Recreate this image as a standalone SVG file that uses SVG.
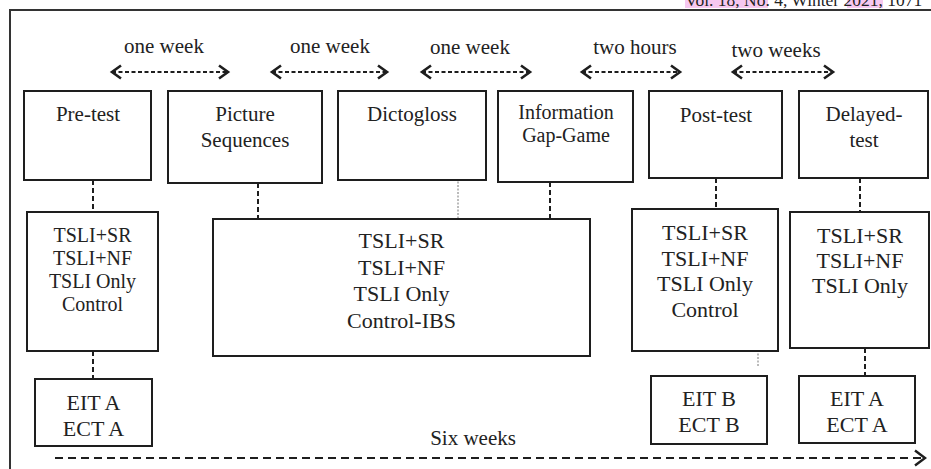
<svg xmlns="http://www.w3.org/2000/svg" width="931" height="469" viewBox="0 0 931 469" font-family="Liberation Serif, DejaVu Serif, serif">
<style>
  .box { fill: #fff; stroke: #1e1e1e; stroke-width: 2; }
  .t { fill: #222; text-anchor: middle; }
  .lbl { font-size: 21px; }
  .bt { font-size: 21px; }
  .bt2 { font-size: 22px; }
  .dash { stroke: #1e1e1e; stroke-width: 2; stroke-dasharray: 5 3; fill: none; }
  .dot { stroke: #777; stroke-width: 1; stroke-dasharray: 2 1.5; fill: none; }
  .arr { stroke: #1e1e1e; stroke-width: 2; stroke-dasharray: 4 2.5; fill: none; marker-start: url(#chev); marker-end: url(#chev); }
  .hdr { font-size: 17.5px; fill: #222; }
</style>
<defs>
  <marker id="chev" markerUnits="userSpaceOnUse" markerWidth="14" markerHeight="16" refX="10" refY="7" orient="auto-start-reverse" overflow="visible">
    <path d="M1,0.5 L10,7 L1,13.5" fill="none" stroke="#1e1e1e" stroke-width="2.6" stroke-dasharray="none"/>
  </marker>
  <marker id="chevB" markerUnits="userSpaceOnUse" markerWidth="14" markerHeight="18" refX="11" refY="8" orient="auto" overflow="visible">
    <path d="M1,0.5 L11,8 L1,15.5" fill="none" stroke="#1e1e1e" stroke-width="2.4" stroke-dasharray="none"/>
  </marker>
</defs>

<rect width="931" height="469" fill="#fff"/>

<!-- header -->
<g id="header">
  <rect x="685" y="0" width="83" height="8" fill="#f6c8f0"/>
  <rect x="847" y="0" width="36" height="8" fill="#f6c8f0"/>
  <text class="hdr" x="685" y="6" font-family="Liberation Serif">Vol. 18, No. 4, Winter 2021, 1071</text>
</g>

<!-- frame -->
<path d="M10,469 V10 H931" fill="none" stroke="#333" stroke-width="2"/>

<!-- time labels -->
<g id="labels" font-family="Liberation Serif">
  <text class="t lbl" x="164" y="53">one week</text>
  <text class="t lbl" x="330" y="53">one week</text>
  <text class="t lbl" x="470" y="54">one week</text>
  <text class="t lbl" x="635" y="54">two hours</text>
  <text class="t lbl" x="776" y="57">two weeks</text>
  <text class="t lbl" x="473" y="445">Six weeks</text>
</g>

<!-- connectors -->
<g id="connectors">
  <line class="arr" x1="112" y1="72" x2="228" y2="72"/>
  <line class="arr" x1="272" y1="72" x2="387" y2="72"/>
  <line class="arr" x1="422" y1="72" x2="530" y2="72"/>
  <line class="arr" x1="582" y1="72" x2="680" y2="72"/>
  <line class="arr" x1="733" y1="72" x2="833" y2="72"/>

  <line class="dash" x1="93" y1="180" x2="93" y2="212"/>
  <line class="dash" x1="258" y1="183" x2="258" y2="223"/>
  <line class="dot" x1="458" y1="178" x2="458" y2="219"/>
  <line class="dash" x1="550" y1="182" x2="550" y2="223"/>
  <line class="dash" x1="716" y1="178" x2="716" y2="209"/>
  <line class="dash" x1="860" y1="178" x2="860" y2="212"/>

  <line class="dash" x1="93" y1="351" x2="93" y2="379"/>
  <line class="dot" x1="758" y1="343" x2="758" y2="367"/>
  <line class="dash" x1="865" y1="348" x2="865" y2="376"/>

  <line x1="55" y1="458" x2="925" y2="458" stroke="#1e1e1e" stroke-width="2" stroke-dasharray="8 5" marker-end="url(#chevB)"/>
</g>

<!-- top row -->
<g id="pretest" font-family="Liberation Serif">
  <rect class="box" x="24" y="91" width="127" height="89"/>
  <text class="t bt" x="88" y="121">Pre-test</text>
</g>
<g id="picture" font-family="Liberation Serif">
  <rect class="box" x="168" y="91" width="154" height="92"/>
  <text class="t bt" x="245" y="121">Picture</text>
  <text class="t bt" x="245" y="147">Sequences</text>
</g>
<g id="dictogloss" font-family="Liberation Serif">
  <rect class="box" x="338" y="91" width="148" height="89"/>
  <text class="t bt" x="412" y="121">Dictogloss</text>
</g>
<g id="infogap" font-family="Liberation Serif">
  <rect class="box" x="498" y="91" width="135" height="91"/>
  <text class="t" font-size="20" x="566" y="119">Information</text>
  <text class="t" font-size="20" x="566" y="142">Gap-Game</text>
</g>
<g id="posttest" font-family="Liberation Serif">
  <rect class="box" x="649" y="91" width="133" height="87"/>
  <text class="t bt" x="716" y="122">Post-test</text>
</g>
<g id="delayed" font-family="Liberation Serif">
  <rect class="box" x="799" y="91" width="129" height="87"/>
  <text class="t bt" x="864" y="121">Delayed-</text>
  <text class="t bt" x="864" y="147">test</text>
</g>

<!-- middle row -->
<g id="groups-pre" font-family="Liberation Serif">
  <rect class="box" x="27" y="212" width="131" height="139"/>
  <text class="t" font-size="20" x="92.5" y="242">TSLI+SR</text>
  <text class="t" font-size="20" x="92.5" y="265">TSLI+NF</text>
  <text class="t" font-size="20" x="92.5" y="288">TSLI Only</text>
  <text class="t" font-size="20" x="92.5" y="311">Control</text>
</g>
<g id="groups-treat" font-family="Liberation Serif">
  <rect class="box" x="213" y="219" width="377" height="137"/>
  <text class="t bt2" x="401.5" y="248">TSLI+SR</text>
  <text class="t bt2" x="401.5" y="274.5">TSLI+NF</text>
  <text class="t bt2" x="401.5" y="301">TSLI Only</text>
  <text class="t bt2" x="401.5" y="327.5">Control-IBS</text>
</g>
<g id="groups-post" font-family="Liberation Serif">
  <rect class="box" x="632" y="209" width="146" height="142"/>
  <text class="t bt2" x="705" y="240">TSLI+SR</text>
  <text class="t bt2" x="705" y="265.5">TSLI+NF</text>
  <text class="t bt2" x="705" y="291">TSLI Only</text>
  <text class="t bt2" x="705" y="316.5">Control</text>
</g>
<g id="groups-delayed" font-family="Liberation Serif">
  <rect class="box" x="790" y="212" width="139" height="136"/>
  <text class="t bt2" x="860" y="243">TSLI+SR</text>
  <text class="t bt2" x="860" y="268">TSLI+NF</text>
  <text class="t bt2" x="860" y="293">TSLI Only</text>
</g>

<!-- bottom row -->
<g id="tests-pre" font-family="Liberation Serif">
  <rect class="box" x="35" y="379" width="117" height="67"/>
  <text class="t bt2" x="93.5" y="410">EIT A</text>
  <text class="t bt2" x="93.5" y="436">ECT A</text>
</g>
<g id="tests-post" font-family="Liberation Serif">
  <rect class="box" x="651" y="376" width="116" height="68"/>
  <text class="t bt2" x="709" y="406">EIT B</text>
  <text class="t bt2" x="709" y="432">ECT B</text>
</g>
<g id="tests-delayed" font-family="Liberation Serif">
  <rect class="box" x="799" y="376" width="116" height="67"/>
  <text class="t bt2" x="857" y="406">EIT A</text>
  <text class="t bt2" x="857" y="432">ECT A</text>
</g>
</svg>
